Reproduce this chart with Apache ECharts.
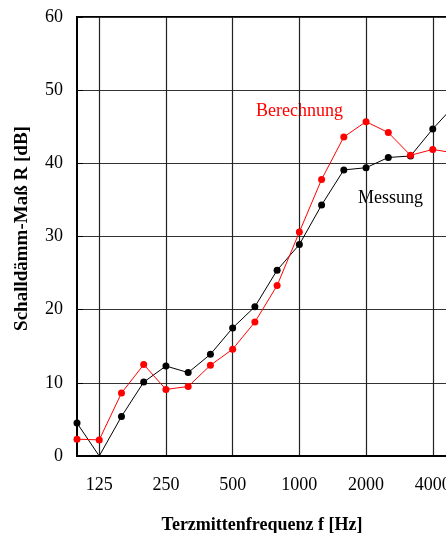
<!DOCTYPE html>
<html>
<head>
<meta charset="utf-8">
<script src="https://cdn.jsdelivr.net/npm/echarts@6/dist/echarts.min.js"></script>
<style>html,body{margin:0;padding:0;background:#fff;}#c{width:446px;height:533px;}</style>
</head>
<body>
<div id="c"></div>
<script>
var freqs = ['100','125','160','200','250','315','400','500','630','800','1000','1250','1600','2000','2500','3150','4000','5000'];
var labeledFreqs = ['125','250','500','1000','2000','4000'];
var messung = [4.5, 0, 5.4, 10.1, 12.3, 11.4, 13.9, 17.5, 20.4, 25.4, 28.9, 34.3, 39.1, 39.4, 40.8, 41.0, 44.7, 48.0];
var berechnung = [2.3, 2.2, 8.6, 12.5, 9.1, 9.5, 12.4, 14.6, 18.3, 23.3, 30.6, 37.8, 43.6, 45.7, 44.2, 41.1, 41.9, 41.4];
var yTicks = [0, 10, 20, 30, 40, 50, 60];

var FONT = '"Liberation Serif", "Times New Roman", serif';
var chart = echarts.init(document.getElementById('c'), null, {renderer: 'canvas'});
function isLabeled(i){ return labeledFreqs.indexOf(freqs[i]) >= 0; }
// points lying on the lower axis carry no visible marker in the original
function toItems(arr){
  return arr.map(function(v){ return v <= yTicks[0] ? {value: v, symbol: 'none'} : v; });
}
chart.setOption({
  animation: false,
  backgroundColor: '#ffffff',
  grid: {left: 77, top: 17, width: 378, height: 439, containLabel: false, outerBoundsMode: 'none',
         show: true, borderColor: '#000', borderWidth: 2, backgroundColor: 'transparent'},
  xAxis: {
    type: 'category', data: freqs, boundaryGap: false,
    name: 'Terzmittenfrequenz f [Hz]', nameLocation: 'middle', nameGap: 60,
    nameTextStyle: {fontFamily: FONT, fontWeight: 'bold', fontSize: 18, color: '#000', padding: [0, 8, 0, 0]},
    axisLine: {lineStyle: {color: '#000', width: 2}},
    axisTick: {show: false},
    axisLabel: {interval: function(i){ return isLabeled(i); }, margin: 20, fontFamily: FONT, fontSize: 18, color: '#000'},
    splitLine: {show: true, interval: function(i){ return isLabeled(i); }, lineStyle: {color: '#222', width: 1.2}}
  },
  yAxis: {
    type: 'value', min: yTicks[0], max: yTicks[yTicks.length-1], interval: 10,
    name: 'Schalldämm-Maß R [dB]', nameLocation: 'middle', nameGap: 45,
    nameTextStyle: {fontFamily: FONT, fontWeight: 'bold', fontSize: 19, color: '#000', padding: [0, 0, 0, 16]},
    axisLine: {show: true, lineStyle: {color: '#000', width: 2}},
    axisTick: {show: true, inside: true, length: 6, lineStyle: {color: '#000', width: 1}},
    axisLabel: {margin: 14, fontFamily: FONT, fontSize: 18, color: '#000'},
    splitLine: {show: true, lineStyle: {color: '#333', width: 1.2}}
  },
  series: [
    {type: 'line', name: 'Messung', data: toItems(messung), symbol: 'circle', symbolSize: 7, clip: true,
     lineStyle: {color: '#000', width: 1}, itemStyle: {color: '#000'}, z: 3},
    {type: 'line', name: 'Berechnung', data: toItems(berechnung), symbol: 'circle', symbolSize: 7, clip: true,
     lineStyle: {color: '#ff0000', width: 1}, itemStyle: {color: '#ff0000'}, z: 4}
  ],
  graphic: [
    {type: 'text', left: 256, top: 102, style: {text: 'Berechnung', fill: '#ff0000', font: '18px ' + FONT}},
    {type: 'text', left: 358, top: 189, style: {text: 'Messung', fill: '#000', font: '18px ' + FONT}}
  ]
});
</script>
</body>
</html>
